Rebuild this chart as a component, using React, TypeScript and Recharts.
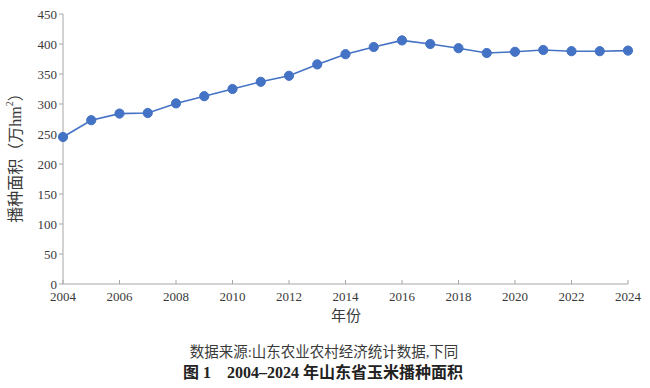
import React from 'react';
import { LineChart, Line, XAxis, YAxis } from 'recharts';

const years = [2004, 2005, 2006, 2007, 2008, 2009, 2010, 2011, 2012, 2013, 2014, 2015, 2016, 2017, 2018, 2019, 2020, 2021, 2022, 2023, 2024];
const area = [245, 273, 284, 285, 301, 313, 325, 337, 347, 366, 383, 395, 406, 400, 393, 385, 387, 390, 388, 388, 389];
const xTicks = [2004, 2006, 2008, 2010, 2012, 2014, 2016, 2018, 2020, 2022, 2024];
const yTicks = [0, 50, 100, 150, 200, 250, 300, 350, 400, 450];

const data = years.map((y, i) => ({ year: y, value: area[i] }));

const FONT = "'Liberation Serif', 'Times New Roman', 'Noto Sans CJK SC', serif";
const TEXT = '#3a3a3a';
const AXIS = '#a6a6a6';

const XTick = (props: any) => {
  const { x, y, payload } = props;
  return (
    <g>
      <line x1={x} y1={y} x2={x} y2={y - 4} stroke={AXIS} strokeWidth={1} />
      <text x={x} y={y + 17} textAnchor="middle" fontSize={13} fontFamily={FONT} fill={TEXT}>
        {payload.value}
      </text>
    </g>
  );
};

export default function App() {
  return (
    <div style={{ position: 'absolute', left: 0, top: 0, width: 650, height: 388, background: '#fff' }}>
      <LineChart width={650} height={388} data={data} margin={{ top: 14, right: 22, bottom: 74, left: 20 }}>
        <XAxis
          dataKey="year"
          type="number"
          domain={[2004, 2024]}
          ticks={xTicks}
          interval={0}
          height={30}
          tickSize={0}
          tickMargin={0}
          tick={<XTick />}
          axisLine={{ stroke: AXIS, strokeWidth: 1 }}
          tickLine={false}
        />
        <YAxis
          type="number"
          domain={[0, 450]}
          ticks={yTicks}
          interval={0}
          width={43}
          tickSize={4}
          tickMargin={2}
          axisLine={{ stroke: AXIS, strokeWidth: 1 }}
          tickLine={{ stroke: AXIS, strokeWidth: 1 }}
          tick={{ fontSize: 13, fontFamily: FONT, fill: TEXT }}
        />
        <Line
          type="linear"
          dataKey="value"
          stroke="#4472C4"
          strokeWidth={1.6}
          dot={{ r: 4.6, fill: '#4472C4', stroke: '#4472C4', strokeWidth: 1 }}
          isAnimationActive={false}
        />
      </LineChart>
      <svg width={650} height={388} style={{ position: 'absolute', left: 0, top: 0, pointerEvents: 'none' }}>
        <text
          x={15}
          y={154}
          transform="rotate(-90 15 154)"
          textAnchor="middle"
          dominantBaseline="central"
          fontSize={16}
          fontFamily={FONT}
          fill={TEXT}
        >
          播种面积（万hm<tspan fontSize={10} dy={-6}>2</tspan><tspan dy={6}>）</tspan>
        </text>
        <text x={346} y={321} textAnchor="middle" fontSize={15} fontFamily={FONT} fill={TEXT}>
          年份
        </text>
        <text x={324} y={357} textAnchor="middle" fontSize={14.5} fontFamily={FONT} fill={TEXT}>
          数据来源:山东农业农村经济统计数据,下同
        </text>
        <text x={323} y={378} textAnchor="middle" fontSize={16} fontWeight="bold" fontFamily={FONT} fill="#222" style={{ whiteSpace: 'pre' }}>
          图 1    2004–2024 年山东省玉米播种面积
        </text>
      </svg>
    </div>
  );
}
